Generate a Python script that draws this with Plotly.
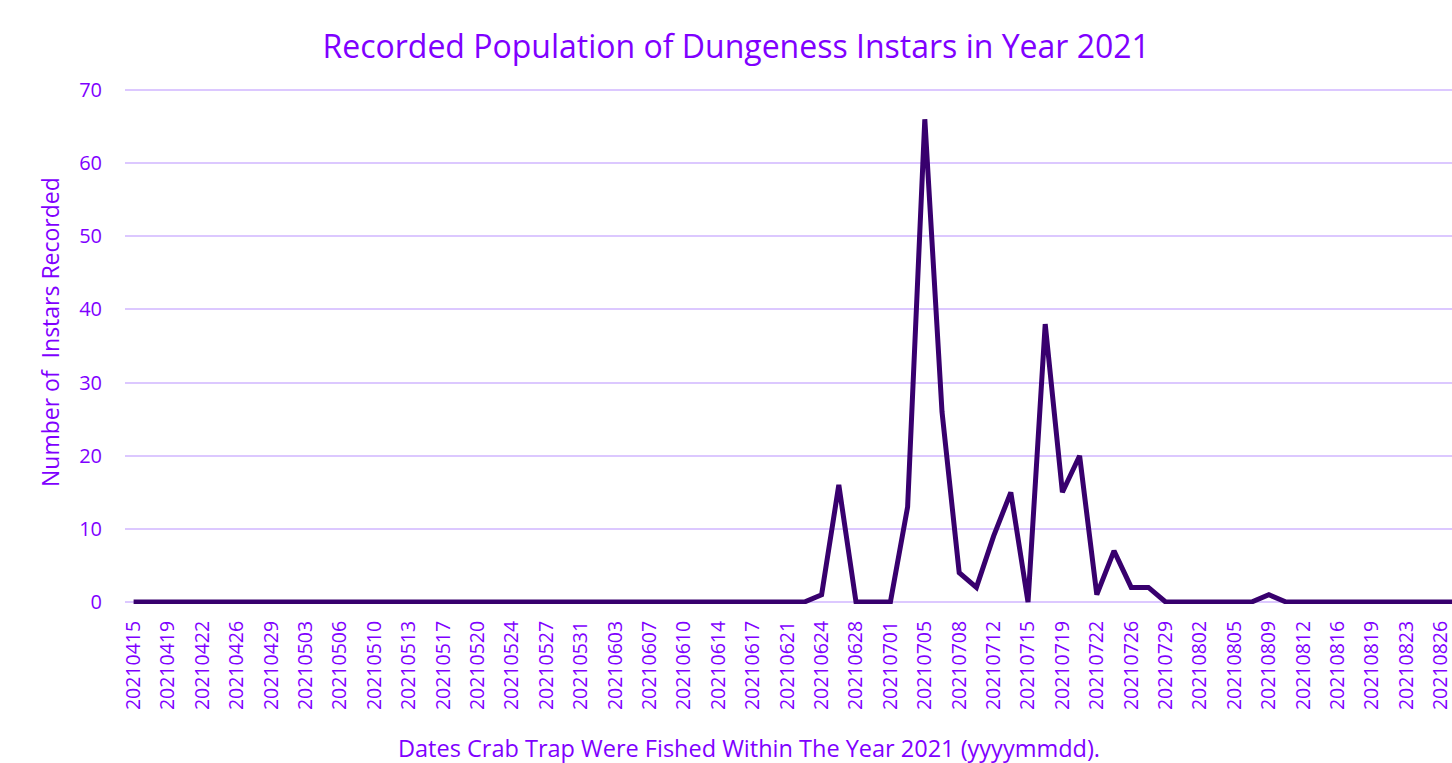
import plotly.graph_objects as go

dates = [
    "20210415", "20210416", "20210419", "20210420", "20210422", "20210423",
    "20210426", "20210427", "20210429", "20210430", "20210503", "20210504",
    "20210506", "20210507", "20210510", "20210511", "20210513", "20210514",
    "20210517", "20210518", "20210520", "20210521", "20210524", "20210525",
    "20210527", "20210528", "20210531", "20210601", "20210603", "20210604",
    "20210607", "20210608", "20210610", "20210611", "20210614", "20210615",
    "20210617", "20210618", "20210621", "20210622", "20210624", "20210625",
    "20210628", "20210629", "20210701", "20210702", "20210705", "20210706",
    "20210708", "20210709", "20210712", "20210713", "20210715", "20210716",
    "20210719", "20210720", "20210722", "20210723", "20210726", "20210727",
    "20210729", "20210730", "20210802", "20210803", "20210805", "20210806",
    "20210809", "20210810", "20210812", "20210813", "20210816", "20210817",
    "20210819", "20210820", "20210823", "20210824", "20210826", "20210827",
]

instars = [
    0, 0, 0, 0, 0, 0, 0, 0, 0, 0,
    0, 0, 0, 0, 0, 0, 0, 0, 0, 0,
    0, 0, 0, 0, 0, 0, 0, 0, 0, 0,
    0, 0, 0, 0, 0, 0, 0, 0, 0, 0,
    1, 16, 0, 0, 0, 13, 66, 26, 4, 2,
    9, 15, 0, 38, 15, 20, 1, 7, 2, 2,
    0, 0, 0, 0, 0, 0, 1, 0, 0, 0,
    0, 0, 0, 0, 0, 0, 0, 0,
]

tick_labels = dates[::2]
y_ticks = [0, 10, 20, 30, 40, 50, 60, 70]

TEXT = "#7F00FF"
GRID = "#DCC8FF"
LINE = "#38006E"
FONT = "Open Sans"

fig = go.Figure()
fig.add_trace(go.Scatter(
    x=dates, y=instars, mode="lines",
    line=dict(color=LINE, width=5),
    showlegend=False,
))

fig.update_layout(
    width=1452, height=763,
    paper_bgcolor="white", plot_bgcolor="white",
    margin=dict(l=125, r=0, t=88, b=159, autoexpand=False),
    font=dict(family=FONT, color=TEXT),
    title=dict(
        text="Recorded Population of Dungeness Instars in Year 2021",
        x=0.507, xanchor="center", y=1 - 47 / 763, yanchor="middle",
        font=dict(size=32, color=TEXT, family=FONT),
    ),
    annotations=[
        dict(
            text="Dates Crab Trap Were Fished Within The Year 2021 (yyyymmdd).",
            xref="paper", yref="paper", x=(749 - 125) / 1327,
            y=-(748 - 604) / 516, xanchor="center", yanchor="middle",
            showarrow=False, font=dict(size=23.5, color=TEXT, family=FONT),
        ),
        dict(
            text="Number of  Instars Recorded",
            xref="paper", yref="paper", x=-(125 - 50) / 1327,
            y=(604 - 332) / 516, xanchor="center", yanchor="middle",
            textangle=-90,
            showarrow=False, font=dict(size=23, color=TEXT, family=FONT),
        ),
    ],
)

fig.update_xaxes(
    type="category",
    range=[-0.5, 76.65],
    automargin=False,
    tickmode="array", tickvals=tick_labels, ticktext=tick_labels,
    tickangle=-90,
    tickfont=dict(size=19.5, color=TEXT, family=FONT),
    showgrid=False, showline=False, zeroline=False,
    ticks="", ticklabelstandoff=12,
)

fig.update_yaxes(
    range=[-0.27, 70.27],
    automargin=False,
    tickmode="array", tickvals=y_ticks,
    tickfont=dict(size=20, color=TEXT, family=FONT),
    showgrid=True, gridcolor=GRID, gridwidth=2,
    zeroline=False, showline=False,
    ticks="", ticklabelstandoff=22,
)

fig.write_html(
    "out.html",
    config={"displayModeBar": False},
    post_script="document.body.style.margin='0';document.body.style.overflow='hidden';",
)
